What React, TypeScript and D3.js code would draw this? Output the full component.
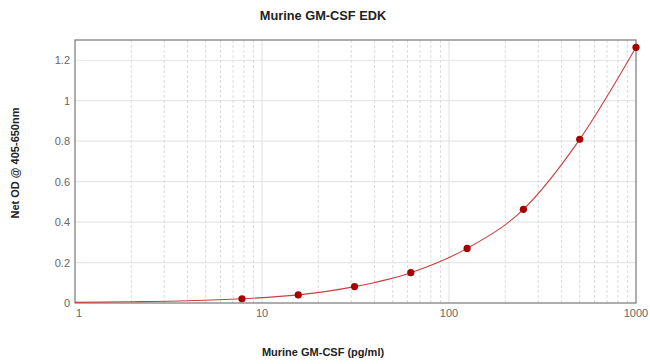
import React from "react";
import * as d3 from "d3";

const concentrations = [7.8125, 15.625, 31.25, 62.5, 125, 250, 500, 1000];
const odValues = [0.021, 0.04, 0.081, 0.15, 0.27, 0.463, 0.809, 1.264];
const fitStartX = [1, 2, 4];
const fitStartY = [0.003, 0.006, 0.011];
const xTicks = [1, 10, 100, 1000];
const yTicks = [0, 0.2, 0.4, 0.6, 0.8, 1, 1.2];

const W = 650;
const H = 364;
const M = { left: 75, right: 14, top: 40, bottom: 61 };

export default function App() {
  const x = d3.scaleLog().domain([1, 1000]).range([M.left, W - M.right]);
  const y = d3.scaleLinear().domain([0, 1.3]).range([H - M.bottom, M.top]);

  const minor: number[] = [];
  for (const dec of [1, 10, 100]) {
    for (let k = 2; k <= 9; k++) minor.push(dec * k);
  }

  const fitX = [...fitStartX, ...concentrations];
  const fitY = [...fitStartY, ...odValues];
  const fitPts: [number, number][] = fitX.map((v, i) => [x(v), y(fitY[i])]);
  const line = d3.line().curve(d3.curveMonotoneX)(fitPts) || "";

  const font = "Arial, 'Liberation Sans', sans-serif";
  const x0 = M.left, x1 = W - M.right, y0 = H - M.bottom, y1 = M.top;

  return (
    <svg width={W} height={H} style={{ position: "absolute", left: 0, top: 0, background: "#fff" }}>
      <rect x={0} y={0} width={W} height={H} fill="#fff" />
      {yTicks.filter((t) => t > 0).map((t) => (
        <line key={"hy" + t} x1={x0} x2={x1} y1={y(t)} y2={y(t)} stroke="#e6e6e6" strokeWidth={1.2} />
      ))}
      {minor.map((t) => (
        <line key={"mx" + t} x1={x(t)} x2={x(t)} y1={y1} y2={y0} stroke="#dcdcdc" strokeWidth={1} strokeDasharray="3,2" />
      ))}
      {[10, 100].map((t) => (
        <line key={"Mx" + t} x1={x(t)} x2={x(t)} y1={y1} y2={y0} stroke="#e0e0e0" strokeWidth={1} />
      ))}
      <rect x={x0} y={y1} width={x1 - x0} height={y0 - y1} fill="none" stroke="#777" strokeWidth={1.2} />
      <path d={line} fill="none" stroke="#c84040" strokeWidth={1.1} />
      {concentrations.map((c, i) => (
        <circle key={"p" + i} cx={x(c)} cy={y(odValues[i])} r={3.6} fill="#a80000" />
      ))}
      {yTicks.map((t) => (
        <text key={"yt" + t} x={x0 - 5} y={y(t) + 4} textAnchor="end" fontFamily={font} fontSize={11} fill="#666">
          {String(t)}
        </text>
      ))}
      {xTicks.map((t) => (
        <text key={"xt" + t} x={t === 1 ? x(t) + 1 : x(t)} y={y0 + 14} textAnchor={t === 1 ? "start" : "middle"} fontFamily={font} fontSize={11} fill="#666">
          {String(t)}
        </text>
      ))}
      <text x={323} y={20} textAnchor="middle" fontFamily={font} fontSize={12.8} fontWeight="bold" fill="#222">
        Murine GM-CSF EDK
      </text>
      <text x={323} y={356} textAnchor="middle" fontFamily={font} fontSize={11} fontWeight="bold" fill="#222">
        Murine GM-CSF (pg/ml)
      </text>
      <text transform="translate(19,163) rotate(-90)" textAnchor="middle" fontFamily={font} fontSize={11} fontWeight="bold" fill="#222">
        Net OD @ 405-650nm
      </text>
    </svg>
  );
}
